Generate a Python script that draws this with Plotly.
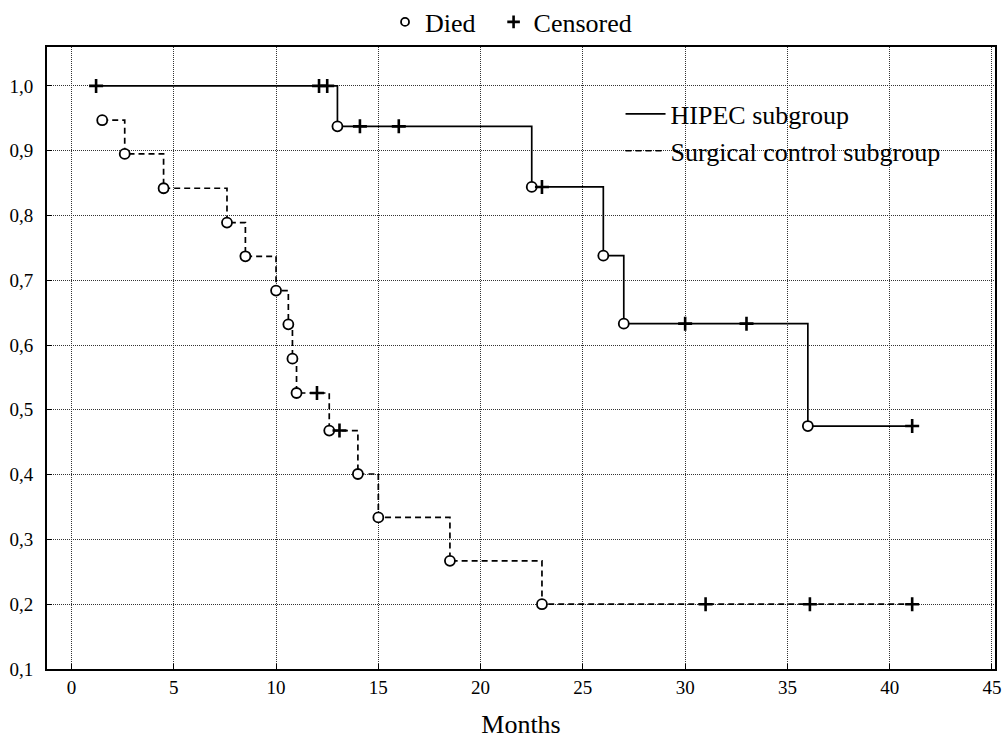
import plotly.graph_objects as go

# HIPEC subgroup
hipec_death_t = [13.0, 22.5, 26.0, 27.0, 36.0]
hipec_death_s = [0.9375, 0.844, 0.738, 0.633, 0.475]
hipec_cens_t = [1.2, 12.1, 12.5, 14.1, 16.0, 23.0, 30.0, 33.0, 41.1]
hipec_cens_s = [1.0, 1.0, 1.0, 0.9375, 0.9375, 0.844, 0.633, 0.633, 0.475]

# Surgical control subgroup
surg_death_t = [1.5, 2.6, 4.5, 7.6, 8.5, 10.0, 10.6, 10.8, 11.0, 12.6, 14.0, 15.0, 18.5, 23.0]
surg_death_s = [0.947, 0.895, 0.842, 0.789, 0.737, 0.684, 0.632, 0.579, 0.526, 0.468, 0.401, 0.334, 0.267, 0.200]
surg_cens_t = [12.0, 13.1, 31.0, 36.1, 41.1]
surg_cens_s = [0.526, 0.468, 0.200, 0.200, 0.200]

x_ticks = [0, 5, 10, 15, 20, 25, 30, 35, 40, 45]
y_ticks = [0.1, 0.2, 0.3, 0.4, 0.5, 0.6, 0.7, 0.8, 0.9, 1.0]
y_labels = [f"{v:.1f}".replace(".", ",") for v in y_ticks]

FONT = "Liberation Serif"

fig = go.Figure()

# step lines
hx = [hipec_cens_t[0]] + hipec_death_t + [hipec_cens_t[-1]]
hy = [hipec_cens_s[0]] + hipec_death_s + [hipec_cens_s[-1]]
fig.add_trace(go.Scatter(x=hx, y=hy, mode="lines", line_shape="hv",
                         line=dict(color="black", width=1.7),
                         name="HIPEC subgroup", legend="legend2"))
sx = surg_death_t + [surg_cens_t[-1]]
sy = surg_death_s + [surg_cens_s[-1]]
fig.add_trace(go.Scatter(x=sx, y=sy, mode="lines", line_shape="hv",
                         line=dict(color="black", width=1.7, dash="6px,4px"),
                         name="Surgical control subgroup", legend="legend2"))

plus = dict(symbol="cross-thin-open", size=10, color="black", line=dict(width=2.6))

for t, s in ((hipec_death_t, hipec_death_s), (surg_death_t, surg_death_s)):
    fig.add_trace(go.Scatter(x=t, y=s, mode="markers", marker=dict(
        symbol="circle", size=10, color="white", line=dict(color="black", width=1.8)),
        showlegend=False, hoverinfo="skip"))
for t, s in ((hipec_cens_t, hipec_cens_s), (surg_cens_t, surg_cens_s)):
    fig.add_trace(go.Scatter(x=t, y=s, mode="markers", marker=plus,
                             showlegend=False, hoverinfo="skip"))

# top legend entries
fig.add_trace(go.Scatter(x=[None], y=[None], mode="markers", name="Died\u00a0\u00a0",
                         marker=dict(symbol="circle-open", size=8, color="black", line=dict(width=1.8)),
                         legend="legend"))
fig.add_trace(go.Scatter(x=[None], y=[None], mode="markers", name="Censored",
                         marker=dict(symbol="cross-thin-open", size=9, color="black", line=dict(width=2.6)),
                         legend="legend"))

grid = dict(showgrid=True, gridcolor="#333333", griddash="1px,1px", gridwidth=1,
            showline=True, linecolor="black", linewidth=1.7, mirror=True,
            ticks="inside", ticklen=5, tickcolor="black", zeroline=False,
            tickfont=dict(family=FONT, size=19, color="black"))

fig.update_layout(
    width=1004, height=739,
    paper_bgcolor="white", plot_bgcolor="white",
    margin=dict(l=47, r=9, t=47, b=70, autoexpand=False),
    font=dict(family=FONT, color="black"),
    xaxis=dict(range=[-1.2, 45.15], tickvals=x_ticks, automargin=False,
               title=dict(text="Months", font=dict(family=FONT, size=26), standoff=36), **grid),
    yaxis=dict(range=[0.1, 1.06], tickvals=y_ticks, ticktext=y_labels, automargin=False,
               ticklabelstandoff=8, **grid),
    legend=dict(orientation="h", xref="container", yref="container",
                x=0.509, xanchor="center", y=1 - 22 / 739, yanchor="middle",
                font=dict(family=FONT, size=26), bgcolor="rgba(0,0,0,0)",
                itemwidth=30, tracegroupgap=0),
    legend2=dict(x=0.605, xanchor="left", y=0.930, yanchor="top",
                 font=dict(family=FONT, size=26), bgcolor="rgba(0,0,0,0)",
                 itemwidth=40, tracegroupgap=0),
)

fig.write_html("out.html")
